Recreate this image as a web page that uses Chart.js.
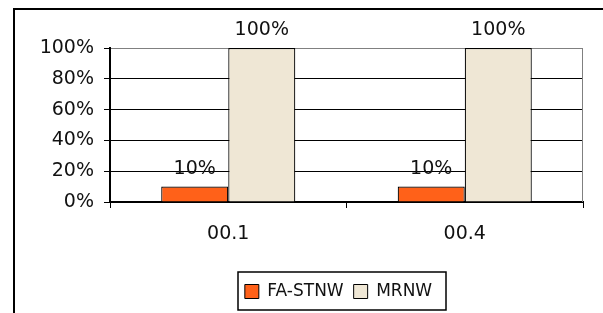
<!DOCTYPE html>
<html><head><meta charset="utf-8">
<script src="https://cdn.jsdelivr.net/npm/chart.js@4/dist/chart.umd.min.js"></script>
<style>html,body{margin:0;padding:0;background:#fff;}#wrap{width:603px;height:313px;}</style>
</head><body><div id="wrap"><canvas id="c" width="603" height="313"></canvas></div>
<script>
const categories = ['00.1', '00.4'];
const seriesNames = ['FA-STNW', 'MRNW'];
const faStnw = [0.10, 0.10];
const mrnw = [1.00, 1.00];
const yTicks = [0, 0.2, 0.4, 0.6, 0.8, 1.0];

const FONT = 'DejaVu Sans';
const LEGEND_SHIFT = 47;

const framePlugin = {
  id: 'frame',
  afterLayout(chart) {
    const lg = chart.legend;
    if (!lg) return;
    lg.left += LEGEND_SHIFT;
    lg.right += LEGEND_SHIFT;
    (lg.legendHitBoxes || []).forEach(h => { h.left += LEGEND_SHIFT; });
  },
  beforeDraw(chart) {
    const ctx = chart.ctx;
    ctx.save();
    ctx.fillStyle = '#fff';
    ctx.fillRect(0, 0, chart.width, chart.height);
    ctx.strokeStyle = '#000';
    ctx.lineWidth = 2;
    ctx.strokeRect(14, 9, 700, 400);
    ctx.restore();
  },
  beforeDatasetsDraw(chart) {
    const a = chart.chartArea, ctx = chart.ctx;
    ctx.save();
    ctx.strokeStyle = '#808080';
    ctx.lineWidth = 1;
    ctx.beginPath();
    ctx.moveTo(Math.round(a.right) - 0.5, a.top);
    ctx.lineTo(Math.round(a.right) - 0.5, a.bottom);
    ctx.stroke();
    ctx.restore();
  },
  afterDatasetsDraw(chart) {
    const ctx = chart.ctx;
    ctx.save();
    ctx.font = '19px "' + FONT + '"';
    ctx.fillStyle = '#111';
    ctx.textAlign = 'center';
    ctx.textBaseline = 'alphabetic';
    chart.data.datasets.forEach((ds, di) => {
      const meta = chart.getDatasetMeta(di);
      meta.data.forEach((el, i) => {
        ctx.fillText(Math.round(ds.data[i] * 100) + '%', el.x, el.y - 13);
      });
    });
    ctx.restore();
  },
  afterDraw(chart) {
    const lg = chart.legend;
    if (!lg || !lg.legendHitBoxes || !lg.legendHitBoxes.length) return;
    const hb = lg.legendHitBoxes;
    const first = hb[0], last = hb[hb.length - 1];
    const ctx = chart.ctx;
    ctx.save();
    ctx.strokeStyle = '#000';
    ctx.lineWidth = 1.5;
    const l = first.left - 7, r = last.left + last.width + 14;
    ctx.strokeRect(Math.round(l), 272, Math.round(r - l), 38);
    ctx.restore();
  }
};

new Chart(document.getElementById('c'), {
  type: 'bar',
  data: {
    labels: categories,
    datasets: [
      { label: seriesNames[0], data: faStnw, backgroundColor: '#FF6119', borderColor: '#000', borderWidth: 1.2 },
      { label: seriesNames[1], data: mrnw, backgroundColor: '#EFE7D5', borderColor: '#000', borderWidth: 1.2 }
    ]
  },
  options: {
    responsive: false,
    animation: false,
    devicePixelRatio: 1,
    datasets: { bar: { categoryPercentage: 0.567, barPercentage: 1.0 } },
    layout: { padding: { left: 0, right: 20, top: 48, bottom: 3 } },
    plugins: {
      tooltip: { enabled: false },
      legend: {
        position: 'bottom',
        labels: {
          boxWidth: 14, boxHeight: 14, padding: 10,
          color: '#111',
          font: { family: FONT, size: 17 },
          generateLabels(chart) {
            return chart.data.datasets.map((ds, i) => ({
              text: ds.label, fillStyle: ds.backgroundColor, strokeStyle: '#000',
              lineWidth: 1, hidden: false, datasetIndex: i, fontColor: '#111'
            }));
          }
        }
      }
    },
    scales: {
      x: {
        afterFit(s) { s.height = 71; },
        grid: { display: true, drawOnChartArea: false, drawTicks: true, tickLength: 6, color: '#000', offset: true },
        border: { display: true, color: '#000', width: 2 },
        ticks: { color: '#111', padding: 15, font: { family: FONT, size: 19 } }
      },
      y: {
        min: 0, max: 1,
        afterFit(s) { s.width = 110; },
        afterBuildTicks(s) { s.ticks = yTicks.map(v => ({ value: v })); },
        grid: {
          color: (c) => (c.tick && c.tick.value === 1) ? '#808080' : '#000',
          tickColor: '#000',
          tickLength: 6, drawTicks: true
        },
        border: { display: true, color: '#000', width: 2 },
        ticks: {
          color: '#111', padding: 10, font: { family: FONT, size: 19 },
          callback: (v) => Math.round(v * 100) + '%'
        }
      }
    }
  },
  plugins: [framePlugin]
});
</script></body></html>
